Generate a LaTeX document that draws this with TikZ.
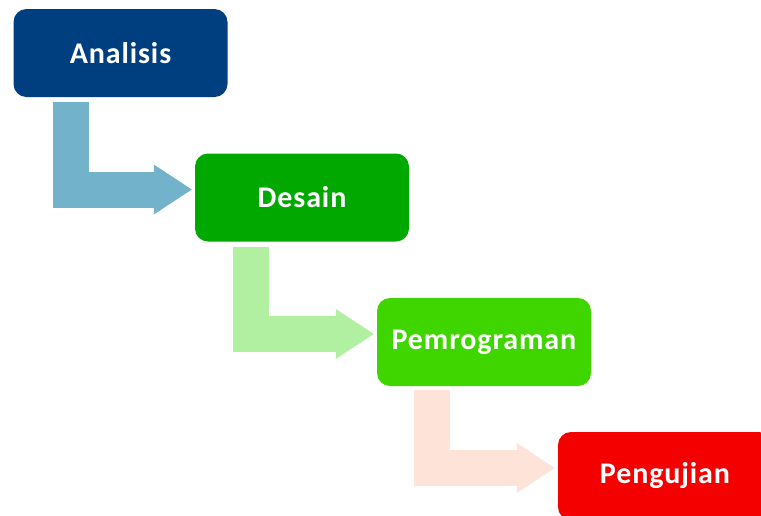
\documentclass[tikz,border=0pt]{standalone}
\usepackage{fontspec}
\setmainfont{Carlito}
\newfontfamily\stagefont[LetterSpace=3]{Carlito}
\usetikzlibrary{arrows.meta}
\definecolor{anablue}{HTML}{003F7F}
\definecolor{desgreen}{HTML}{00A800}
\definecolor{pemgreen}{HTML}{3FD600}
\definecolor{penred}{HTML}{F40000}
\definecolor{arrblue}{HTML}{72B2CA}
\definecolor{arrgreen}{HTML}{B0F0A0}
\definecolor{arrpink}{HTML}{FDE3D8}
\begin{document}
\begin{tikzpicture}[x=1pt,y=-1pt,
    stage/.style={rounded corners=13pt, minimum width=214pt, minimum height=88pt,
      inner sep=0pt, text=white, font=\stagefont\fontsize{30}{30}\selectfont\bfseries},
    flow/.style={draw=#1, line width=36pt,
      -{Triangle[length=38pt,width=50pt,line width=0pt,fill=#1]}, shorten >=3pt}]
    \useasboundingbox (0,0) rectangle (761,515);
    \clip (0,0) rectangle (761,515);
    \node [stage, fill=anablue] (ana) at (120.5,53) {Analisis};
    \node [stage, fill=desgreen] (des) at (302,197.5) {Desain};
    \node [stage, fill=pemgreen] (pem) at (484,342) {Pemrograman};
    \node [stage, fill=penred] (pen) at (665,476) {Pengujian};
    \draw [flow=arrblue] ([xshift=58pt,yshift=-5pt]ana.south west) |- ([yshift=8pt]des.west);
    \draw [flow=arrgreen] ([xshift=56pt,yshift=-5pt]des.south west) |- ([yshift=8pt]pem.west);
    \draw [flow=arrpink] ([xshift=55pt,yshift=-4pt]pem.south west) |- ([yshift=8pt]pen.west);
\end{tikzpicture}
\end{document}
